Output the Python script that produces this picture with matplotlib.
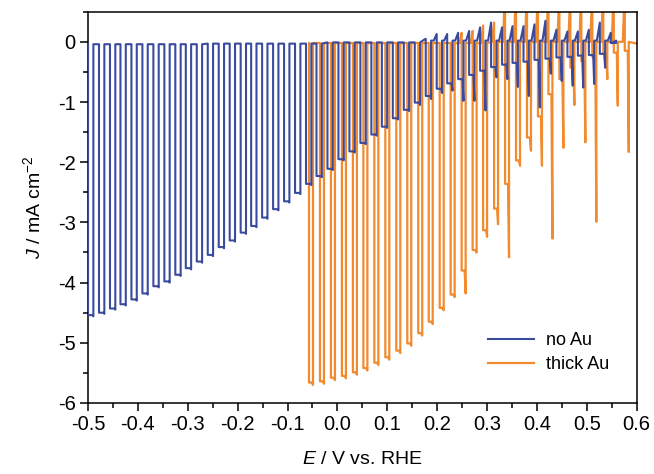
import matplotlib.pyplot as plt
from matplotlib.ticker import MultipleLocator

plt.rcParams['font.family'] = ['Liberation Sans', 'DejaVu Sans']
plt.rcParams['mathtext.fontset'] = 'custom'
plt.rcParams['mathtext.rm'] = 'Liberation Sans'
plt.rcParams['mathtext.it'] = 'Liberation Sans:italic'

# chopped-light sweeps, E in V vs RHE, J in mA cm^-2
# per chop: E where light-on starts, steady light current, cathodic spike,
# anodic spike at light-off, dark current
no_au_E = [-0.500, -0.478, -0.456, -0.435, -0.413, -0.391, -0.369, -0.347,
           -0.325, -0.304, -0.282, -0.260, -0.238, -0.216, -0.194, -0.173,
           -0.151, -0.129, -0.107, -0.085, -0.063, -0.042, -0.020, 0.002,
           0.024, 0.046, 0.068, 0.089, 0.111, 0.133, 0.155, 0.177,
           0.199, 0.220, 0.242, 0.264, 0.286, 0.308, 0.330, 0.351,
           0.373, 0.395, 0.417, 0.439, 0.461, 0.482, 0.504, 0.526, 0.548]
no_au_light = [-4.54, -4.50, -4.43, -4.36, -4.28, -4.18, -4.06, -3.98,
               -3.87, -3.76, -3.65, -3.54, -3.41, -3.30, -3.17, -3.06,
               -2.92, -2.78, -2.65, -2.51, -2.36, -2.23, -2.11, -1.95,
               -1.82, -1.68, -1.54, -1.41, -1.27, -1.13, -1.01, -0.90,
               -0.78, -0.69, -0.62, -0.55, -0.48, -0.42, -0.38, -0.35,
               -0.33, -0.30, -0.28, -0.26, -0.25, -0.23, -0.22, -0.20, -0.02]
no_au_spike = [-4.56, -4.52, -4.45, -4.38, -4.30, -4.20, -4.08, -4.00,
               -3.89, -3.78, -3.67, -3.56, -3.43, -3.32, -3.19, -3.08,
               -2.94, -2.80, -2.67, -2.53, -2.38, -2.25, -2.13, -1.97,
               -1.84, -1.70, -1.56, -1.43, -1.29, -1.15, -1.05, -0.95,
               -0.85, -0.81, -0.98, -0.98, -1.14, -0.59, -0.62, -0.75,
               -0.90, -1.09, -0.53, -0.65, -0.73, -0.76, -0.70, -0.43, -0.02]
no_au_peak = [-0.04] * 11 + [-0.03] * 11 + [-0.01] * 9 + [
    0.05, 0.13, 0.13, 0.15, 0.18, 0.24, 0.32, 0.24, 0.26,
    0.26, 0.29, 0.35, 0.20, 0.17, 0.17, 0.20, 0.32, 0.15]
no_au_dark = [-0.04] * 11 + [-0.03] * 11 + [-0.01] * 9 + [0.02] * 18
no_au_end = 0.552

thick_au_E = [-0.057, -0.035, -0.013, 0.009, 0.031, 0.052, 0.074, 0.096,
              0.118, 0.140, 0.162, 0.183, 0.205, 0.227, 0.249, 0.271,
              0.292, 0.314, 0.336, 0.358, 0.380, 0.402, 0.423, 0.445,
              0.467, 0.489, 0.511, 0.533, 0.554, 0.576]
thick_au_light = [-5.66, -5.64, -5.58, -5.55, -5.49, -5.42, -5.33, -5.24,
                  -5.13, -5.01, -4.84, -4.65, -4.42, -4.20, -3.80, -3.46,
                  -3.13, -2.77, -2.36, -1.97, -1.59, -1.24, -0.87, -0.62,
                  -0.43, -0.32, -0.25, -0.20, -0.18, -0.15]
thick_au_spike = [-5.70, -5.68, -5.62, -5.59, -5.53, -5.46, -5.37, -5.28,
                  -5.17, -5.05, -4.88, -4.69, -4.46, -4.24, -4.18, -3.50,
                  -3.24, -3.03, -3.58, -2.06, -1.81, -2.06, -3.27, -1.76,
                  -1.05, -1.67, -2.99, -0.62, -1.06, -1.83]
thick_au_peak = [-0.02] * 14 + [0.15, 0.18, 0.27, 0.32] + [0.9] * 12
thick_au_dark = [-0.02] * 17 + [0.0] * 13
thick_au_end = 0.600


def chopped(E, light, spike, peak, dark, on_w, end, rise):
    x, y = [], []
    for i in range(len(E)):
        a, b = E[i], E[i] + on_w
        if peak[i] > dark[i]:
            x += [a - rise, a]
            y += [dark[i], peak[i]]
        else:
            x.append(a)
            y.append(dark[i])
        x += [a, b - 0.002, b, b]
        y += [light[i], light[i], spike[i], dark[i]]
    x.append(end)
    y.append(dark[-1] - 0.03)
    return x, y


fig = plt.figure(figsize=(6.54, 4.74), dpi=100)
ax = fig.add_axes([0.1346, 0.1498, 0.839, 0.8255])

x1, y1 = chopped(no_au_E, no_au_light, no_au_spike, no_au_peak, no_au_dark,
                 0.0107, no_au_end, 0.006)
x2, y2 = chopped(thick_au_E, thick_au_light, thick_au_spike, thick_au_peak,
                 thick_au_dark, 0.008, thick_au_end, 0.004)
ax.plot(x1, y1, color='#3a4b9e', lw=1.5, label='no Au', zorder=3)
ax.plot(x2, y2, color='#f28a2e', lw=1.6, label='thick Au', zorder=2)

ax.set_xlim(-0.5, 0.6)
ax.set_ylim(-6, 0.5)
ax.xaxis.set_minor_locator(MultipleLocator(0.05))
ax.yaxis.set_minor_locator(MultipleLocator(0.5))
ax.set_xticks([-0.5, -0.4, -0.3, -0.2, -0.1, 0.0, 0.1, 0.2, 0.3, 0.4, 0.5, 0.6])
ax.set_xticklabels(['-0.5', '-0.4', '-0.3', '-0.2', '-0.1', '0.0', '0.1',
                    '0.2', '0.3', '0.4', '0.5', '0.6'])
ax.set_yticks([-6, -5, -4, -3, -2, -1, 0])
ax.set_yticklabels(['-6', '-5', '-4', '-3', '-2', '-1', '0'])
ax.tick_params(which='major', direction='out', length=6, width=1.1,
               labelsize=14.5, pad=3)
ax.tick_params(which='minor', direction='out', length=3.5, width=1.1)
for s in ax.spines.values():
    s.set_linewidth(1.1)

ax.set_xlabel('$E$ / V vs. RHE', fontsize=14, labelpad=12)
ax.set_ylabel('$J$ / mA cm$^{-2}$', fontsize=14, labelpad=10)
ax.legend(loc='lower left', bbox_to_anchor=(0.70, 0.035), frameon=False,
          fontsize=13, handlelength=2.5, labelspacing=0.4, handletextpad=0.7)

fig.savefig('out.png', dpi=100)
